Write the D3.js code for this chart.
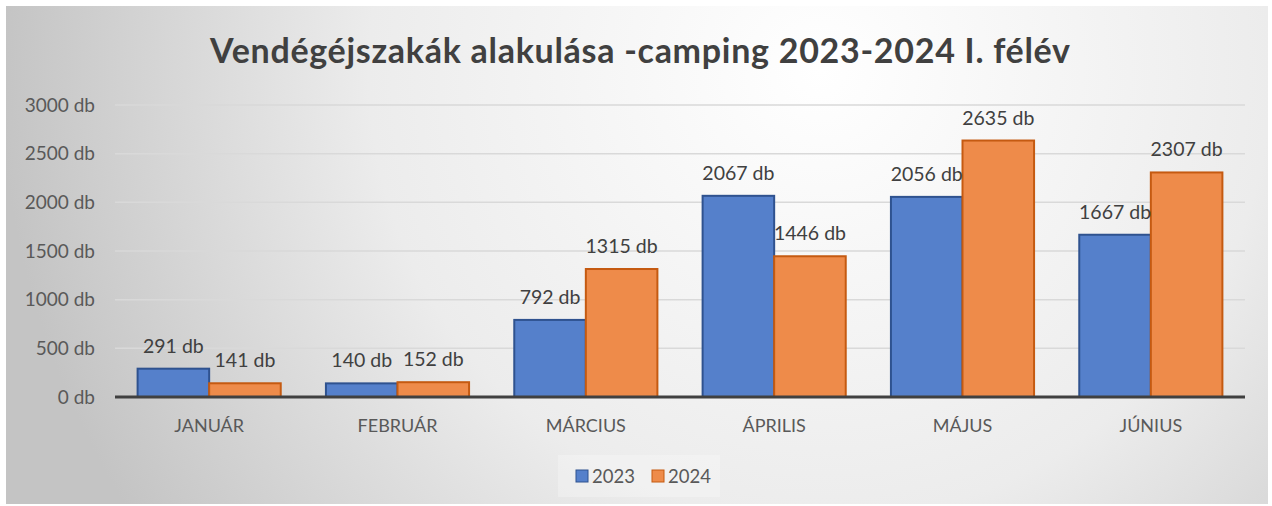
<!DOCTYPE html>
<html>
<head>
<meta charset="utf-8">
<script src="https://cdn.jsdelivr.net/npm/d3@7"></script>
<style>
  body { margin: 0; background: #fff; }
  text { font-family: Lato, "Open Sans", sans-serif; }
</style>
</head>
<body>
<script>
var width = 1272;
var height = 506;

var months = ["JANUÁR", "FEBRUÁR", "MÁRCIUS", "ÁPRILIS", "MÁJUS", "JÚNIUS"];
var series = ["2023", "2024"];
var values2023 = [291, 140, 792, 2067, 2056, 1667];
var values2024 = [141, 152, 1315, 1446, 2635, 2307];
var yTicks = [0, 500, 1000, 1500, 2000, 2500, 3000];

var fills = ["#5580cb", "#ee8b4a"];
var strokes = ["#2f528f", "#c55a11"];

var plot = { left: 115, right: 1245, top: 105, bottom: 397 };

var svg = d3.select("body").append("svg")
    .attr("width", width).attr("height", height);

// background
var defs = svg.append("defs");
var grad = defs.append("radialGradient").attr("id", "bg")
    .attr("gradientUnits", "userSpaceOnUse")
    .attr("cx", 820).attr("cy", 70).attr("r", 820);
grad.append("stop").attr("offset", "0%").attr("stop-color", "#ffffff");
grad.append("stop").attr("offset", "55%").attr("stop-color", "#ececec");
grad.append("stop").attr("offset", "100%").attr("stop-color", "#c4c4c4");

svg.append("rect")
    .attr("x", 6).attr("y", 6).attr("width", 1262).attr("height", 498)
    .attr("fill", "url(#bg)");

var x0 = d3.scaleBand().domain(months).range([plot.left, plot.right]).paddingInner(0.24).paddingOuter(0.12);
var x1 = d3.scaleBand().domain(series).range([0, x0.bandwidth()]);
var y = d3.scaleLinear().domain([0, 3000]).range([plot.bottom, plot.top]);

// gridlines
svg.append("g").selectAll("line").data(yTicks.slice(1)).enter().append("line")
    .attr("x1", plot.left).attr("x2", plot.right)
    .attr("y1", function (d) { return y(d); })
    .attr("y2", function (d) { return y(d); })
    .attr("stroke", "#d9d9d9").attr("stroke-width", 1.5);

// y axis labels
var yAxis = d3.axisLeft(y).tickValues(yTicks).tickSize(0).tickPadding(0)
    .tickFormat(function (d) { return d + " db"; });
var gy = svg.append("g").attr("transform", "translate(95,0)").call(yAxis);
gy.select(".domain").remove();
gy.selectAll("text").attr("fill", "#595959").attr("font-size", "19px")
    .attr("font-family", "Lato, sans-serif");

var rows = months.map(function (m, i) {
    return { month: m, vals: [values2023[i], values2024[i]] };
});

var groups = svg.append("g").selectAll("g").data(rows).enter().append("g")
    .attr("transform", function (d) { return "translate(" + x0(d.month) + ",0)"; });

groups.selectAll("rect").data(function (d) {
    return d.vals.map(function (v, j) { return { s: series[j], v: v, j: j }; });
}).enter().append("rect")
    .attr("x", function (d) { return x1(d.s); })
    .attr("y", function (d) { return y(d.v); })
    .attr("width", x1.bandwidth())
    .attr("height", function (d) { return y(0) - y(d.v); })
    .attr("fill", function (d) { return fills[d.j]; })
    .attr("stroke", function (d) { return strokes[d.j]; })
    .attr("stroke-width", 2);

groups.selectAll("text.lbl").data(function (d) {
    return d.vals.map(function (v, j) { return { s: series[j], v: v }; });
}).enter().append("text").attr("class", "lbl")
    .attr("x", function (d) { return x1(d.s) + x1.bandwidth() / 2; })
    .attr("y", function (d) { return y(d.v) - 16; })
    .attr("text-anchor", "middle")
    .attr("font-size", "19.5px").attr("fill", "#404040")
    .text(function (d) { return d.v + " db"; });

// x axis
var xAxis = d3.axisBottom(x0).tickSize(0).tickPadding(22);
var gx = svg.append("g").attr("transform", "translate(0," + plot.bottom + ")").call(xAxis);
gx.select(".domain").remove();
gx.selectAll("text").attr("fill", "#595959").attr("font-size", "18px")
    .attr("font-family", "Lato, sans-serif");
svg.append("line")
    .attr("x1", plot.left).attr("x2", plot.right)
    .attr("y1", plot.bottom).attr("y2", plot.bottom)
    .attr("stroke", "#404040").attr("stroke-width", 3);

// title
svg.append("text")
    .attr("x", 640).attr("y", 63)
    .attr("text-anchor", "middle")
    .attr("font-size", "34px").attr("font-weight", "bold").attr("fill", "#404040")
    .attr("textLength", 860).attr("lengthAdjust", "spacing")
    .text("Vendégéjszakák alakulása -camping 2023-2024 I. félév");

// legend
svg.append("rect").attr("x", 558).attr("y", 455).attr("width", 162).attr("height", 42)
    .attr("fill", "#ffffff").attr("opacity", 0.25);
var legend = svg.append("g").selectAll("g").data(series).enter().append("g")
    .attr("transform", function (d, i) { return "translate(" + (576 + i * 76) + ",470)"; });
legend.append("rect").attr("width", 12).attr("height", 12)
    .attr("fill", function (d, i) { return fills[i]; })
    .attr("stroke", function (d, i) { return strokes[i]; });
legend.append("text").attr("x", 16).attr("y", 13)
    .attr("font-size", "18.5px").attr("fill", "#595959")
    .text(function (d) { return d; });
</script>
</body>
</html>
